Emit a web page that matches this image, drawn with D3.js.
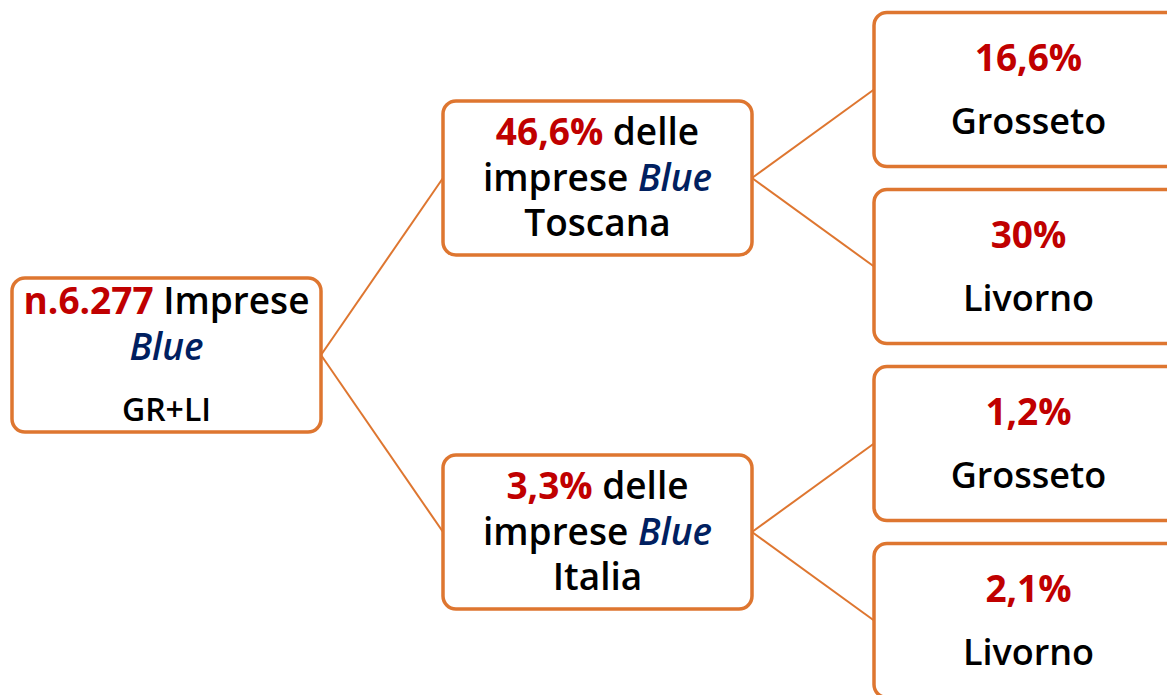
<!DOCTYPE html>
<html>
<head>
<meta charset="utf-8">
<script src="https://cdn.jsdelivr.net/npm/d3@7"></script>
<style>
body { margin: 0; background: #fff; }
svg { display: block; }
</style>
</head>
<body>
<script>
// tree data
var nodeIds = ['root', 'toscana', 'italia', 'gr_t', 'li_t', 'gr_i', 'li_i'];
var parentIds = [null, 'root', 'root', 'toscana', 'toscana', 'italia', 'italia'];
var shares = ['n.6.277', '46,6%', '3,3%', '16,6%', '30%', '1,2%', '2,1%'];
var places = ['GR+LI', 'Toscana', 'Italia', 'Grosseto', 'Livorno', 'Grosseto', 'Livorno'];

var width = 1167, height = 695;
var box_w = 309, box_h = 154;
var col_step = 431, left_pad = 12, root_y = 355;

var red = '#C00000', blue = '#002060', orange = '#DE7630';

var svg = d3.select('body').append('svg')
	.attr('width', width)
	.attr('height', height)
	.style('font-family', '"Open Sans", sans-serif')
	.style('font-weight', 600);

var table = nodeIds.map(function(id, i){
	return {id: id, parent: parentIds[i], share: shares[i], place: places[i]};
});

var root = d3.stratify()
	.id(function(d){ return d.id; })
	.parentId(function(d){ return d.parent; })(table);

var tree = d3.tree()
	.nodeSize([177, col_step])
	.separation(function(){ return 1; });
tree(root);

// x = vertical, y = horizontal
function bx(d){ return left_pad + d.y; }
function cy(d){ return root_y + d.x; }

var g = svg.append('g');

// links
g.selectAll('.link')
	.data(root.links())
	.enter()
	.append('line')
	.attr('class', 'link')
	.attr('x1', function(d){ return bx(d.source) + box_w; })
	.attr('y1', function(d){ return cy(d.source); })
	.attr('x2', function(d){ return bx(d.target); })
	.attr('y2', function(d){ return cy(d.target); })
	.attr('stroke', orange)
	.attr('stroke-width', 2);

var nodes = g.selectAll('.node')
	.data(root.descendants())
	.enter()
	.append('g')
	.attr('class', 'node')
	.attr('transform', function(d){ return 'translate(' + bx(d) + ',' + (cy(d) - box_h / 2) + ')'; });

nodes.append('rect')
	.attr('width', box_w)
	.attr('height', box_h)
	.attr('rx', 13)
	.attr('fill', '#fff')
	.attr('stroke', orange)
	.attr('stroke-width', 3.5);

var cx = box_w / 2;

nodes.each(function(d){
	var sel = d3.select(this);
	if(d.depth == 0){
		var t1 = sel.append('text').attr('x', cx).attr('y', 36).attr('text-anchor', 'middle').attr('font-size', 37);
		t1.append('tspan').attr('fill', red).attr('font-weight', 700).text(d.data.share);
		t1.append('tspan').attr('fill', '#000').text(' Imprese');
		sel.append('text').attr('x', cx).attr('y', 82).attr('text-anchor', 'middle').attr('font-size', 37)
			.attr('font-style', 'italic').attr('fill', blue).text('Blue');
		sel.append('text').attr('x', cx).attr('y', 143).attr('text-anchor', 'middle').attr('font-size', 32)
			.attr('fill', '#000').text(d.data.place);
	}
	else if(d.depth == 1){
		var t1 = sel.append('text').attr('x', cx).attr('y', 44).attr('text-anchor', 'middle').attr('font-size', 37);
		t1.append('tspan').attr('fill', red).attr('font-weight', 700).text(d.data.share);
		t1.append('tspan').attr('fill', '#000').text(' delle');
		var t2 = sel.append('text').attr('x', cx).attr('y', 90).attr('text-anchor', 'middle').attr('font-size', 37);
		t2.append('tspan').attr('fill', '#000').text('imprese ');
		t2.append('tspan').attr('fill', blue).attr('font-style', 'italic').text('Blue');
		sel.append('text').attr('x', cx).attr('y', 135).attr('text-anchor', 'middle').attr('font-size', 37)
			.attr('fill', '#000').text(d.data.place);
	}
	else{
		sel.append('text').attr('x', cx).attr('y', 58).attr('text-anchor', 'middle').attr('font-size', 37)
			.attr('font-weight', 700).attr('fill', red).text(d.data.share);
		sel.append('text').attr('x', cx).attr('y', 121).attr('text-anchor', 'middle').attr('font-size', 36)
			.attr('fill', '#000').text(d.data.place);
	}
});
</script>
</body>
</html>
